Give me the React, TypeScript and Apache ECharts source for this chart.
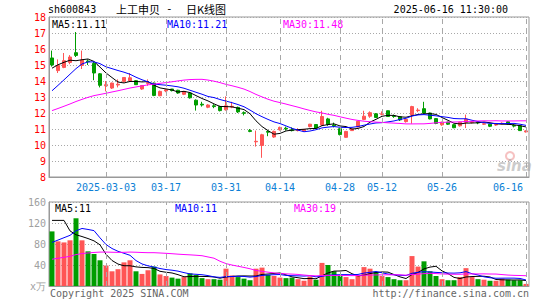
import React, { useEffect, useRef } from 'react';
import * as echarts from 'echarts';

// ---- data ----
const dates = [
  '2025-02-18','2025-02-19','2025-02-20','2025-02-21','2025-02-24','2025-02-25','2025-02-26','2025-02-27','2025-02-28',
  '2025-03-03','2025-03-04','2025-03-05','2025-03-06','2025-03-07','2025-03-10','2025-03-11','2025-03-12','2025-03-13','2025-03-14',
  '2025-03-17','2025-03-18','2025-03-19','2025-03-20','2025-03-21','2025-03-24','2025-03-25','2025-03-26','2025-03-27','2025-03-28',
  '2025-03-31','2025-04-01','2025-04-02','2025-04-03','2025-04-07','2025-04-08','2025-04-09','2025-04-10','2025-04-11',
  '2025-04-14','2025-04-15','2025-04-16','2025-04-17','2025-04-18','2025-04-21','2025-04-22','2025-04-23','2025-04-24','2025-04-25',
  '2025-04-28','2025-04-29','2025-04-30','2025-05-06','2025-05-07','2025-05-08','2025-05-09',
  '2025-05-12','2025-05-13','2025-05-14','2025-05-15','2025-05-16','2025-05-19','2025-05-20','2025-05-21','2025-05-22','2025-05-23',
  '2025-05-26','2025-05-27','2025-05-28','2025-05-29','2025-05-30','2025-06-03','2025-06-04','2025-06-05','2025-06-06',
  '2025-06-09','2025-06-10','2025-06-11','2025-06-12','2025-06-13','2025-06-16',
];

const opens = [
  15.44, 14.65, 14.85, 15.16, 15.77, 14.97, 15.25, 15.10, 14.45,
  13.70, 13.56, 13.75, 13.97, 14.00, 14.02, 13.50, 13.85, 13.87, 13.08,
  13.38, 13.50, 13.42, 13.17, 13.25, 12.80, 12.55, 12.36, 12.45, 12.40,
  12.20, 12.37, 12.35, 12.02, 10.90, 10.20, 9.97, 10.85, 10.50,
  10.95, 11.05, 10.95, 10.90, 10.88, 11.15, 11.28, 11.25, 11.63, 11.25,
  11.02, 10.48, 10.90, 11.13, 11.60, 11.80, 11.95,
  11.92, 12.14, 11.82, 11.77, 11.46, 11.88, 12.15, 12.27, 12.00, 11.65,
  11.26, 11.43, 11.27, 11.20, 11.42, 11.42, 11.42, 11.30, 11.30,
  11.25, 11.32, 11.45, 11.22, 11.20, 10.82,
];
const closes = [
  15.00, 14.97, 15.27, 15.50, 15.60, 15.31, 15.20, 14.50, 13.73,
  13.77, 13.87, 13.80, 14.22, 14.20, 13.77, 13.72, 13.90, 13.10, 13.35,
  13.45, 13.40, 13.25, 13.33, 12.95, 12.50, 12.50, 12.50, 12.40, 12.15,
  12.45, 12.42, 12.07, 11.98, 10.85, 10.23, 10.64, 10.80, 10.85,
  11.10, 11.00, 10.90, 10.95, 10.97, 11.30, 11.05, 11.78, 11.28, 11.20,
  10.65, 10.85, 11.00, 11.48, 11.80, 12.02, 11.72,
  11.95, 11.78, 11.78, 11.57, 11.60, 12.40, 12.18, 12.00, 11.63, 11.35,
  11.43, 11.30, 11.08, 11.42, 11.62, 11.45, 11.38, 11.33, 11.17,
  11.28, 11.36, 11.32, 11.18, 10.90, 10.88,
];
const lows = [
  14.90, 14.50, 14.80, 15.05, 15.50, 14.75, 15.00, 14.05, 13.60,
  13.35, 13.50, 13.60, 13.90, 13.95, 13.75, 13.45, 13.70, 13.05, 13.05,
  13.30, 13.35, 13.20, 13.12, 12.90, 12.15, 12.40, 12.30, 12.30, 12.10,
  12.15, 12.30, 12.00, 11.85, 10.80, 9.90, 9.20, 10.55, 10.45,
  10.90, 10.90, 10.85, 10.85, 10.85, 11.10, 11.00, 11.20, 11.20, 11.10,
  10.60, 10.45, 10.88, 11.10, 11.55, 11.70, 11.70,
  11.85, 11.75, 11.70, 11.50, 11.40, 11.33, 12.05, 11.95, 11.60, 11.30,
  11.20, 11.25, 11.05, 11.15, 11.06, 11.35, 11.30, 11.25, 11.12,
  11.20, 11.30, 11.28, 11.10, 10.88, 10.78,
];
const highs = [
  15.90, 15.35, 15.75, 15.62, 17.06, 15.90, 15.35, 15.20, 14.50,
  14.00, 13.90, 14.10, 14.25, 14.50, 14.05, 13.75, 14.10, 13.90, 13.40,
  13.50, 13.50, 13.45, 13.38, 13.28, 12.85, 12.70, 12.55, 12.55, 12.45,
  13.04, 12.70, 12.40, 12.10, 11.00, 10.90, 10.70, 10.90, 10.90,
  11.15, 11.15, 11.10, 11.05, 11.00, 11.32, 11.30, 12.14, 11.70, 11.40,
  11.05, 10.88, 11.02, 11.50, 12.14, 12.10, 12.00,
  12.10, 12.15, 11.90, 11.80, 11.65, 12.45, 12.30, 12.70, 12.02, 11.68,
  11.45, 11.45, 11.30, 11.45, 11.90, 11.50, 11.45, 11.38, 11.32,
  11.35, 11.42, 11.48, 11.30, 11.22, 10.92,
];
const volumes = [
  104, 85, 83, 87, 129, 87, 66, 61, 49,
  39, 28, 32, 45, 49, 28, 23, 30, 37, 22,
  19, 16, 14, 17, 24, 21, 15, 13, 13, 12,
  33, 20, 17, 14, 11, 33, 35, 21, 19,
  16, 15, 16, 13, 10, 18, 12, 44, 40, 28,
  19, 17, 13, 19, 36, 33, 27,
  19, 17, 13, 11, 11, 57, 37, 47, 28, 19,
  13, 11, 11, 17, 34, 17, 13, 12, 10,
  10, 14, 12, 11, 11, 4,
];
// closes / volumes of the 29 sessions before the window (read back from the MA lines)
const priorCloses = [
  11.0, 11.1, 11.2, 11.0, 11.3, 11.4, 11.3, 11.5, 11.6, 11.4,
  11.5, 11.7, 11.6, 11.8, 11.7, 11.9, 11.8, 11.9, 12.0, 11.9,
  11.6, 11.8, 12.0, 12.1, 12.4, 13.9, 14.5, 14.84, 15.76,
];
const priorVolumes = [
  30, 28, 32, 30, 27, 33, 31, 29, 36, 40,
  38, 42, 35, 39, 37, 41, 36, 40, 38, 38,
  40, 38, 42, 43, 42, 85, 83, 187, 166,
];

const labelDates = ['2025-03-03', '2025-03-17', '2025-03-31', '2025-04-14', '2025-04-28', '2025-05-12', '2025-05-26', '2025-06-16'];
const priceLegend = ['MA5:11.11', 'MA10:11.21', 'MA30:11.48'];
const volumeLegend = ['MA5:11', 'MA10:11', 'MA30:19'];
const priceTicks = { min: 8, max: 18, interval: 1 };
const volumeTicks = { min: 0, max: 160, interval: 40 };

// ---- styling ----
const MONO = "'DejaVu Sans Mono', 'Liberation Mono', monospace";
const CJK = "'Noto Sans CJK SC', sans-serif";
const RED = '#ff5555';
const GREEN = '#009d00';
const BLUE_LABEL = '#0c7fd6';
const GRID_GRAY = '#a8a8a8';
const BORDER = '#999999';
const MA_COLORS = ['#000000', '#0000ff', '#ff00ff'];

function movingAverage(n: number, prior: number[], data: number[]) {
  const all = prior.concat(data);
  return data.map((_, i) => {
    const end = prior.length + i;
    let s = 0;
    for (let k = end - n + 1; k <= end; k++) s += all[k];
    return +(s / n).toFixed(3);
  });
}

export default function App() {
  const ref = useRef<HTMLDivElement>(null);
  useEffect(() => {
    if (!ref.current) return;
    const chart = echarts.init(ref.current, undefined, { renderer: 'svg' });
    const candleData = dates.map((_, i) => [opens[i], closes[i], lows[i], highs[i]]);
    const volData = volumes.map((v, i) => ({
      value: v,
      itemStyle: { color: closes[i] >= opens[i] ? RED : GREEN },
    }));
    const pMA = [5, 10, 30].map((n) => movingAverage(n, priorCloses, closes));
    const vMA = [5, 10, 30].map((n) => movingAverage(n, priorVolumes, volumes));
    const vLines = {
      silent: true,
      symbol: 'none',
      label: { show: false },
      lineStyle: { color: GRID_GRAY, type: [5, 4], width: 1 },
      data: labelDates.map((d) => ({ xAxis: d })),
    };
    const lastLabel = labelDates[labelDates.length - 1];
    const option: any = {
      animation: false,
      backgroundColor: '#ffffff',
      textStyle: { fontFamily: MONO },
      grid: [
        { left: 49, top: 17, width: 480, height: 160, show: true, borderColor: BORDER, borderWidth: 1, backgroundColor: 'transparent' },
        { left: 49, top: 202, width: 480, height: 84, show: true, borderColor: BORDER, borderWidth: 1, backgroundColor: 'transparent' },
      ],
      xAxis: [
        {
          type: 'category', gridIndex: 0, data: dates, boundaryGap: true,
          axisLine: { lineStyle: { color: BORDER } }, axisTick: { show: false }, splitLine: { show: false },
          axisLabel: {
            interval: (_i: number, v: string) => labelDates.includes(v),
            formatter: (v: string) => (v === labelDates[0] ? v : v === lastLabel ? '{e|' + v.slice(5) + '}' : v.slice(5)),
            rich: { e: { color: BLUE_LABEL, fontFamily: MONO, fontSize: 10, padding: [0, 36, 0, 0] } },
            color: BLUE_LABEL, fontFamily: MONO, fontSize: 10, margin: 5,
          },
        },
        {
          type: 'category', gridIndex: 1, data: dates, boundaryGap: true,
          axisLine: { lineStyle: { color: BORDER } }, axisTick: { show: false }, axisLabel: { show: false }, splitLine: { show: false },
        },
      ],
      yAxis: [
        {
          type: 'value', gridIndex: 0, ...priceTicks,
          axisLine: { show: true, lineStyle: { color: BORDER } }, axisTick: { show: false },
          axisLabel: { color: '#ff0000', fontFamily: MONO, fontSize: 10, margin: 3 },
          splitLine: { show: true, lineStyle: { color: GRID_GRAY, type: [1, 2], width: 1 } },
        },
        {
          type: 'value', gridIndex: 1, ...volumeTicks,
          axisLine: { show: true, lineStyle: { color: BORDER } }, axisTick: { show: false },
          axisLabel: { color: '#a0a0a0', fontFamily: MONO, fontSize: 10, margin: 3, formatter: (v: number) => (v === 0 ? 'x万' : String(v)) },
          splitLine: { show: true, lineStyle: { color: GRID_GRAY, type: [1, 2], width: 1 } },
        },
      ],
      series: [
        {
          type: 'candlestick', xAxisIndex: 0, yAxisIndex: 0, data: candleData, barWidth: 4,
          itemStyle: { color: RED, color0: GREEN, borderColor: RED, borderColor0: GREEN, borderWidth: 1 },
          markLine: vLines,
        },
        ...pMA.map((d, k) => ({
          type: 'line', xAxisIndex: 0, yAxisIndex: 0, data: d, showSymbol: false, symbol: 'none',
          lineStyle: { color: MA_COLORS[k], width: 1 }, z: 3,
        })),
        {
          type: 'bar', xAxisIndex: 1, yAxisIndex: 1, data: volData, barWidth: 5,
          markLine: vLines,
        },
        ...vMA.map((d, k) => ({
          type: 'line', xAxisIndex: 1, yAxisIndex: 1, data: d, showSymbol: false, symbol: 'none',
          lineStyle: { color: MA_COLORS[k], width: 1 }, z: 3,
        })),
      ],
      graphic: [
        { type: 'text', left: 48, top: 4, style: { text: 'sh600843', fill: '#000', font: `10px ${MONO}` } },
        { type: 'text', left: 116, top: 3, style: { text: '上工申贝', fill: '#000', font: `11px ${CJK}` } },
        { type: 'text', left: 166, top: 3, style: { text: '-', fill: '#000', font: `11px ${MONO}` } },
        { type: 'text', left: 186, top: 3, style: { text: '日K线图', fill: '#000', font: `11px ${CJK}` } },
        { type: 'text', right: 37, top: 4, style: { text: '2025-06-16 11:30:00', fill: '#000', font: `10px ${MONO}` } },
        ...priceLegend.map((t, k) => ({
          type: 'text', left: [52, 167, 283][k], top: 19, style: { text: t, fill: MA_COLORS[k], font: `10px ${MONO}` },
        })),
        ...volumeLegend.map((t, k) => ({
          type: 'text', left: [55, 175, 294][k], top: 203, style: { text: t, fill: MA_COLORS[k], font: `10px ${MONO}` },
        })),
        { type: 'text', left: 50, top: 288, style: { text: 'Copyright 2025 SINA.COM', fill: '#666', font: `10px ${MONO}` } },
        { type: 'text', right: 16, top: 288, style: { text: 'http://finance.sina.com.cn', fill: '#666', font: `10px ${MONO}` } },
        { type: 'ring', shape: { cx: 510, cy: 156, r: 5, r0: 3 }, style: { fill: 'rgba(235,120,120,0.45)' } },
        { type: 'text', left: 497, top: 158, style: { text: 'sina', fill: 'rgba(170,170,170,0.6)', font: `italic bold 15px 'DejaVu Sans', sans-serif` } },
      ],
    };
    chart.setOption(option);
    return () => chart.dispose();
  }, []);
  return <div ref={ref} style={{ position: 'fixed', left: 0, top: 0, width: 545, height: 300 }} />;
}
